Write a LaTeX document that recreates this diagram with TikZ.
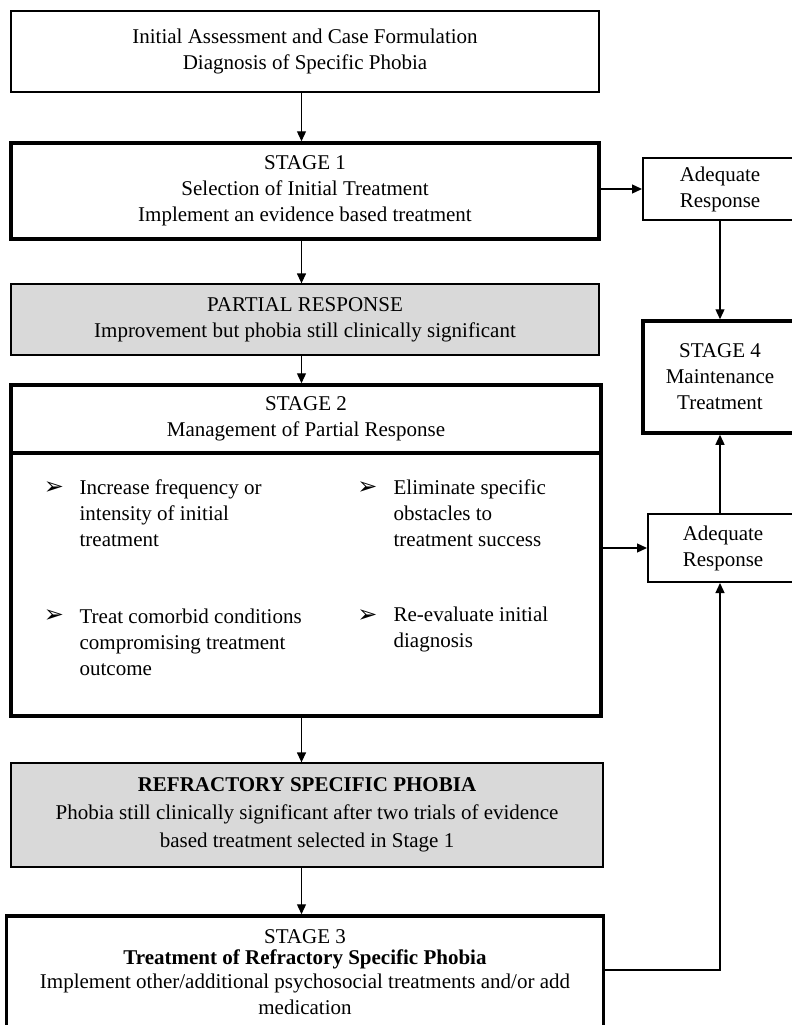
\documentclass[tikz,border=0pt]{standalone}
\usepackage{fontspec}
\setmainfont{Liberation Serif}
\newfontfamily\dingfont{DejaVu Sans}
\usetikzlibrary{arrows.meta}
\definecolor{panelgray}{HTML}{D9D9D9}

\begin{document}
\begin{tikzpicture}[x=1pt, y=-1pt, line width=1.3pt, arrows={-Triangle[length=10pt,width=9pt]},
	plainbox/.style={draw, line width=1.3pt, inner sep=0pt, align=center, font=\fontsize{21}{26}\selectfont},
	graybox/.style={plainbox, fill=panelgray},
	respbox/.style={plainbox, line width=2pt},
	stagebox/.style={plainbox, line width=3.5pt},
	itemtext/.style={anchor=west, inner sep=0pt, align=left, font=\fontsize{21}{26}\selectfont},
	bul/.style={inner sep=0pt, font=\dingfont\fontsize{24}{24}\selectfont}]
	\useasboundingbox (0,0) rectangle (792,1025);

	\node[plainbox, minimum width=588pt, minimum height=81pt] (IA) at (305,51.5) {Initial Assessment and Case Formulation\\ Diagnosis of Specific Phobia};
	\node[stagebox, minimum width=588pt, minimum height=96pt] (S1) at (305,191) {STAGE 1\\ Selection of Initial Treatment\\ Implement an evidence based treatment};
	\node[respbox, minimum width=154pt, minimum height=62pt] (AR1) at (720,189) {Adequate\\ Response};
	\node[graybox, minimum width=588pt, minimum height=71pt] (PR) at (305,319.5) {PARTIAL RESPONSE\\ Improvement but phobia still clinically significant};
	\node[stagebox, minimum width=154pt, minimum height=112pt] (S4) at (720,377) {STAGE 4\\ Maintenance\\ Treatment};
	\node[stagebox, minimum width=590pt, minimum height=68pt] (S2) at (306,419) {STAGE 2\\ Management of Partial Response};
	\node[stagebox, minimum width=590pt, minimum height=263pt] (S2B) at (306,584.5) {};
	\node[respbox, minimum width=150pt, minimum height=68pt] (AR2) at (723,548) {Adequate\\ Response};
	\node[graybox, minimum width=592pt, minimum height=104pt, font=\fontsize{21}{28}\selectfont] (RSP) at (307,815) {\textbf{REFRACTORY SPECIFIC PHOBIA}\\ Phobia still clinically significant after two trials of evidence\\ based treatment selected in Stage 1};
	\node[stagebox, minimum width=597pt, minimum height=113pt] (S3) at (305,972.5) {STAGE 3\\[-5pt] \textbf{Treatment of Refractory Specific Phobia}\\[-2pt] Implement other/additional psychosocial treatments and/or add\\ medication};
	\coordinate (C) at (301.5,0);

	% stage 2 items
	\node[bul] (B1) at (54,488) {➢};
	\node[itemtext] (T1) at (79,513.5) {Increase frequency or\\ intensity of initial\\ treatment};
	\node[bul] (B2) at (54,616) {➢};
	\node[itemtext] (T2) at (79,642) {Treat comorbid conditions\\ compromising treatment\\ outcome};
	\node[bul] (B3) at (367.5,488) {➢};
	\node[itemtext] (T3) at (393,513.5) {Eliminate specific\\ obstacles to\\ treatment success};
	\node[bul] (B4) at (367.5,616) {➢};
	\node[itemtext] (T4) at (393,629) {Re-evaluate initial\\ diagnosis};

	\draw (IA.south -| C) -- (S1.north -| C);
	\draw (S1.east |- AR1) -- (AR1);
	\draw (AR1) -- (S4);
	\draw (S1.south -| C) -- (PR.north -| C);
	\draw (PR.south -| C) -- (S2.north -| C);
	\draw (S2B.east |- AR2) -- (AR2);
	\draw (AR2.north -| S4.south) -- (S4.south);
	\draw (S2B.south -| C) -- (RSP.north -| C);
	\draw (RSP.south -| C) -- (S3.north -| C);
	\draw ([yshift=2.5pt]S3.east) -| (AR2.south -| S4.south);
\end{tikzpicture}
\end{document}
